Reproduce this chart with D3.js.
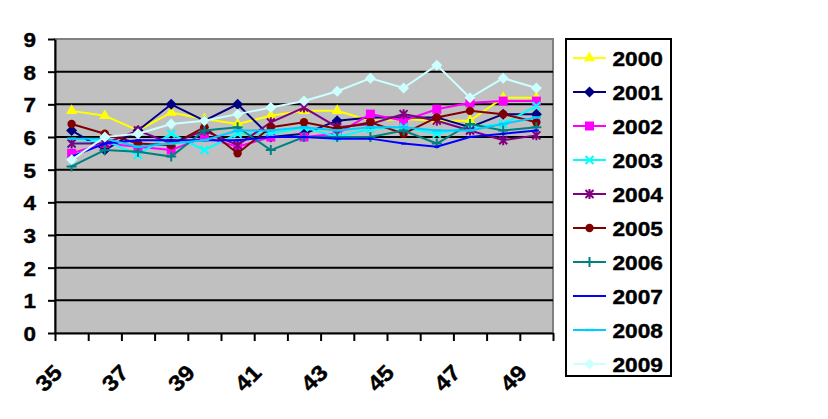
<!DOCTYPE html>
<html>
<head>
<meta charset="utf-8">
<script src="https://cdn.jsdelivr.net/npm/d3@7"></script>
<style>
  body { margin: 0; background: #fff; }
  svg { display: block; }
  text { font-family: "Liberation Sans", Arial, sans-serif; font-weight: bold; }
</style>
</head>
<body>
<div id="chart"></div>
<script>
// categories on the x axis
const categories = [35, 36, 37, 38, 39, 40, 41, 42, 43, 44, 45, 46, 47, 48, 49];
const labelCategories = [35, 37, 39, 41, 43, 45, 47, 49];
const yTicks = [0, 1, 2, 3, 4, 5, 6, 7, 8, 9];

// one array per year
const s2000 = [6.8, 6.65, 6.2, 6.75, 6.55, 6.4, 6.65, 6.8, 6.8, 6.5, 6.55, 6.5, 6.5, 7.2, 7.2];
const s2001 = [6.2, 5.6, 6.2, 7.0, 6.5, 7.0, 6.0, 6.1, 6.5, 6.6, 6.6, 6.6, 6.3, 6.7, 6.7];
const s2002 = [5.5, 5.8, 5.7, 5.6, 6.0, 5.7, 6.0, 6.0, 6.1, 6.7, 6.5, 6.85, 7.05, 7.1, 7.1];
const s2003 = [5.8, 5.9, 5.45, 6.1, 5.6, 6.1, 6.1, 6.3, 6.0, 6.25, 6.3, 6.1, 6.3, 6.4, 6.95];
const s2004 = [5.8, 5.8, 6.2, 5.8, 6.2, 5.75, 6.45, 6.9, 6.3, 6.4, 6.7, 6.5, 6.2, 5.9, 6.05];
const s2005 = [6.4, 6.1, 5.8, 5.75, 6.3, 5.5, 6.3, 6.45, 6.25, 6.45, 6.1, 6.6, 6.8, 6.7, 6.45];
const s2006 = [5.1, 5.6, 5.55, 5.4, 6.2, 6.3, 5.6, 6.0, 6.0, 6.0, 6.2, 5.8, 6.4, 6.2, 6.3];
const s2007 = [5.4, 5.8, 5.9, 5.9, 5.9, 5.9, 6.0, 6.0, 5.95, 5.95, 5.8, 5.7, 6.0, 6.1, 6.2];
const s2008 = [5.95, 5.95, 5.7, 5.8, 5.9, 6.2, 6.2, 6.3, 6.2, 6.3, 6.3, 6.2, 6.2, 6.4, 6.6];
const s2009 = [5.3, 6.0, 6.1, 6.4, 6.5, 6.7, 6.9, 7.1, 7.4, 7.8, 7.5, 8.2, 7.2, 7.8, 7.5];

const years = ["2000", "2001", "2002", "2003", "2004", "2005", "2006", "2007", "2008", "2009"];
const seriesValues = [s2000, s2001, s2002, s2003, s2004, s2005, s2006, s2007, s2008, s2009];
const colors = ["#ffff00", "#000080", "#ff00ff", "#00ffff", "#800080",
                "#800000", "#008080", "#0000ff", "#00ccff", "#ccffff"];
const markers = ["triangle", "diamond", "square", "x", "star",
                 "circle", "plus", "dash", "longdash", "diamond"];

const series = years.map((name, i) => ({
  name: name,
  values: seriesValues[i],
  color: colors[i],
  marker: markers[i]
}));

const width = 828, height = 419;
const plot = { left: 55, right: 553, top: 39, bottom: 333 };

const svg = d3.select("#chart").append("svg")
  .attr("width", width)
  .attr("height", height);

// scales
const x = d3.scaleBand().domain(categories).range([plot.left, plot.right]);
const xc = d => x(d) + x.bandwidth() / 2;
const xEdges = d3.scaleLinear().domain([0, categories.length]).range([plot.left, plot.right]);
const y = d3.scaleLinear().domain([0, 9]).range([plot.bottom, plot.top]);

// plot area
svg.append("rect")
  .attr("x", plot.left).attr("y", plot.top)
  .attr("width", plot.right - plot.left).attr("height", plot.bottom - plot.top)
  .attr("fill", "#c0c0c0")
  .attr("stroke", "#808080")
  .attr("stroke-width", 2);

// gridlines
svg.append("g")
  .selectAll("line")
  .data(yTicks.filter(t => t > 0 && t < 9))
  .enter().append("line")
  .attr("x1", plot.left).attr("x2", plot.right)
  .attr("y1", d => y(d)).attr("y2", d => y(d))
  .attr("stroke", "#000")
  .attr("stroke-width", 2);

// y axis
const yAxis = svg.append("g")
  .attr("transform", `translate(${plot.left},0)`)
  .call(d3.axisLeft(y).tickValues(yTicks).tickSize(7).tickSizeOuter(0).tickPadding(12));
yAxis.select(".domain").attr("stroke", "#000").attr("stroke-width", 2);
yAxis.selectAll(".tick line").attr("stroke", "#000").attr("stroke-width", 2);
yAxis.selectAll(".tick text")
  .attr("fill", "#000")
  .attr("stroke", "#000")
  .attr("stroke-width", 0.4)
  .attr("font-size", 21)
  .attr("font-family", "Liberation Sans, Arial, sans-serif")
  .attr("font-weight", "bold")
  .attr("dy", "0.36em")
  .attr("textLength", 12.5)
  .attr("lengthAdjust", "spacingAndGlyphs");

// x axis: ticks between categories
const xAxis = svg.append("g")
  .attr("transform", `translate(0,${plot.bottom})`)
  .call(d3.axisBottom(xEdges).tickValues(d3.range(categories.length + 1))
    .tickSize(8).tickSizeOuter(0).tickFormat(""));
xAxis.select(".domain").attr("stroke", "#000").attr("stroke-width", 2);
xAxis.selectAll(".tick line").attr("stroke", "#000").attr("stroke-width", 2);

// rotated category labels
svg.append("g")
  .selectAll("text")
  .data(labelCategories)
  .enter().append("text")
  .attr("transform", d => `translate(${xc(d) - 8},${plot.bottom + 41}) rotate(-45)`)
  .attr("text-anchor", "end")
  .attr("font-size", 22)
  .attr("textLength", 27)
  .attr("lengthAdjust", "spacingAndGlyphs")
  .attr("fill", "#000")
  .attr("stroke", "#000")
  .attr("stroke-width", 0.4)
  .text(d => d);

// marker shapes
function markerPath(type) {
  switch (type) {
    case "triangle": return d3.symbol(d3.symbolTriangle, 55)();
    case "diamond": return "M0,-5.5L5.5,0L0,5.5L-5.5,0Z";
    case "square": return "M-4.5,-4.5H4.5V4.5H-4.5Z";
    case "circle": return d3.symbol(d3.symbolCircle, 55)();
    case "x": return "M-4,-4L4,4M-4,4L4,-4";
    case "star": return "M-4,-4L4,4M-4,4L4,-4M0,-5V5";
    case "plus": return "M-5,0H5M0,-5V5";
    case "dash": return "M-2.5,-1H2.5V1H-2.5Z";
    case "longdash": return "M-4.5,-1.2H4.5V1.2H-4.5Z";
  }
}
const strokeMarkers = ["x", "star", "plus"];

const line = d3.line()
  .x((d, i) => xc(categories[i]))
  .y(d => y(d));

const seriesG = svg.append("g");
series.forEach(s => {
  const g = seriesG.append("g");
  g.append("path")
    .attr("d", line(s.values))
    .attr("fill", "none")
    .attr("stroke", s.color)
    .attr("stroke-width", 2);
  const isStroke = strokeMarkers.includes(s.marker);
  g.selectAll("path.m")
    .data(s.values)
    .enter().append("path")
    .attr("class", "m")
    .attr("transform", (d, i) => `translate(${xc(categories[i])},${y(d)})`)
    .attr("d", markerPath(s.marker))
    .attr("fill", isStroke ? "none" : s.color)
    .attr("stroke", isStroke ? s.color : "none")
    .attr("stroke-width", isStroke ? 2 : 0);
});

// legend
const legend = svg.append("g");
legend.append("rect")
  .attr("x", 566).attr("y", 39)
  .attr("width", 105).attr("height", 337)
  .attr("fill", "#fff")
  .attr("stroke", "#000")
  .attr("stroke-width", 2);

const legendY = d3.scalePoint().domain(years).range([58, 364]);
series.forEach(s => {
  const ly = legendY(s.name);
  const item = legend.append("g");
  item.append("line")
    .attr("x1", 573).attr("x2", 606)
    .attr("y1", ly).attr("y2", ly)
    .attr("stroke", s.color)
    .attr("stroke-width", 2);
  const isStroke = strokeMarkers.includes(s.marker);
  item.append("path")
    .attr("transform", `translate(589.5,${ly})`)
    .attr("d", markerPath(s.marker))
    .attr("fill", isStroke ? "none" : s.color)
    .attr("stroke", isStroke ? s.color : "none")
    .attr("stroke-width", isStroke ? 2 : 0);
  item.append("text")
    .attr("x", 612.5)
    .attr("y", ly)
    .attr("dy", "0.36em")
    .attr("font-size", 21)
    .attr("textLength", 50.5)
    .attr("lengthAdjust", "spacingAndGlyphs")
    .attr("fill", "#000")
    .attr("stroke", "#000")
    .attr("stroke-width", 0.4)
    .text(s.name);
});
</script>
</body>
</html>
